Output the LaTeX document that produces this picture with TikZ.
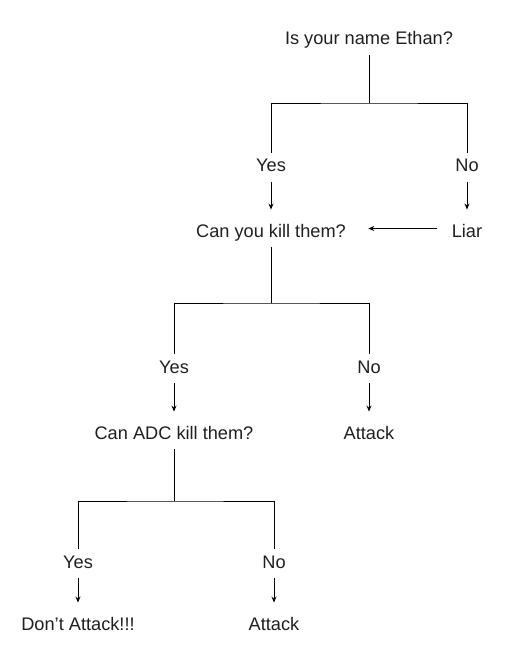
\documentclass[tikz,border=0pt]{standalone}
\usepackage{fontspec}
\setmainfont{Liberation Sans}
\usetikzlibrary{arrows.meta,positioning}
\tikzset{
    %Define standard arrow tip
    >={Stealth[length=6pt,width=5pt]},
    ask/.style={
      text height=13pt,
      text depth=4pt,
      inner sep=6pt,
      font=\fontsize{18.2}{22}\selectfont,
      text=black!88},
    answer/.style={ask},
    feed/.style={<-, shorten <=8pt},
}

\begin{document}
\begin{tikzpicture}[x=1pt,y=-1pt,line width=0.9pt,on grid]
    \useasboundingbox (0,0) rectangle (516,652);
    % first question
    \node (ethan) [ask] at (369,40.5)
          {Is your name Ethan?};
    \coordinate [below=62.5pt of ethan] (fork1);
    \node (yes1) [answer] [below left=127pt and 98pt of ethan]
          {Yes};
    \node (no1) [answer] [right=196pt of yes1]
          {No};
    \draw (ethan) -- (fork1);
    \draw (yes1) |- (fork1) -| (no1);
    \node (killyou) [ask] [below=65pt of yes1]
          {Can you kill them?}
          edge [feed] (yes1);
    \node (liar) [answer] [below=65pt of no1]
          {Liar}
          edge [feed] (no1);
    \draw [->, shorten <=8pt, shorten >=16pt]
          ([yshift=4pt]liar.west) -- ([yshift=4pt]killyou.east);
    % second question
    \coordinate [below=70.5pt of killyou] (fork2);
    \node (yes2) [answer] [below left=136pt and 97pt of killyou]
          {Yes};
    \node (no2) [answer] [right=195pt of yes2]
          {No};
    \draw (killyou) -- (fork2);
    \draw (yes2) |- (fork2) -| (no2);
    \node (killadc) [ask] [below=66pt of yes2]
          {Can ADC kill them?}
          edge [feed] (yes2);
    \node (attack1) [answer] [below=66pt of no2]
          {Attack}
          edge [feed] (no2);
    % third question
    \coordinate [below=66.5pt of killadc] (fork3);
    \node (yes3) [answer] [below left=129pt and 96pt of killadc]
          {Yes};
    \node (no3) [answer] [right=196pt of yes3]
          {No};
    \draw (killadc) -- (fork3);
    \draw (yes3) |- (fork3) -| (no3);
    \node (dont) [answer] [below=62pt of yes3]
          {Don’t Attack!!!}
          edge [feed] (yes3);
    \node (attack2) [answer] [below=62pt of no3]
          {Attack}
          edge [feed] (no3);
\end{tikzpicture}
\end{document}
